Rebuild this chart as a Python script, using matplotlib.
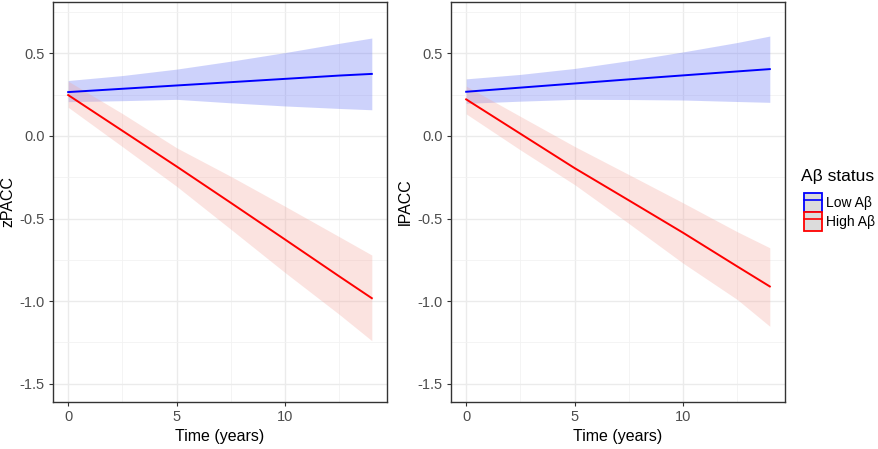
import matplotlib
matplotlib.use("Agg")
import matplotlib.pyplot as plt
from matplotlib.patches import Patch
from matplotlib.lines import Line2D
from matplotlib.legend_handler import HandlerTuple

plt.rcParams['font.family'] = ['Liberation Sans', 'DejaVu Sans']

time = [0, 2.5, 5, 7.5, 10, 12.5, 14]

# Left panel: zPACC
z_low = [0.265, 0.285, 0.305, 0.325, 0.345, 0.365, 0.375]
z_low_hi = [0.335, 0.365, 0.404, 0.452, 0.504, 0.560, 0.592]
z_low_lo = [0.207, 0.213, 0.221, 0.200, 0.181, 0.166, 0.158]
z_high = [0.247, 0.031, -0.185, -0.405, -0.627, -0.850, -0.982]
z_high_hi = [0.331, 0.135, -0.072, -0.245, -0.426, -0.610, -0.721]
z_high_lo = [0.173, -0.065, -0.305, -0.565, -0.827, -1.080, -1.239]

# Right panel: lPACC
l_low = [0.267, 0.292, 0.317, 0.342, 0.366, 0.390, 0.404]
l_low_hi = [0.345, 0.372, 0.408, 0.455, 0.508, 0.565, 0.604]
l_low_lo = [0.197, 0.210, 0.221, 0.220, 0.217, 0.208, 0.203]
l_high = [0.221, 0.013, -0.195, -0.390, -0.586, -0.790, -0.911]
l_high_hi = [0.301, 0.118, -0.064, -0.234, -0.405, -0.580, -0.677]
l_high_lo = [0.133, -0.085, -0.295, -0.530, -0.770, -0.990, -1.152]

groups = ["Low Aβ", "High Aβ"]
line_colors = ["#0000ff", "#ff0000"]
fill_colors = ["#5c6cf5", "#f4a39a"]

W, H = 879, 449
fig = plt.figure(figsize=(W / 100, H / 100), dpi=100)

def ax_at(x0, y0, x1, y1):
    return fig.add_axes([x0 / W, 1 - y1 / H, (x1 - x0) / W, (y1 - y0) / H])

axL = ax_at(53, 2, 387, 402)
axR = ax_at(451, 2, 785, 402)

panels = [
    (axL, "zPACC", [(z_low, z_low_lo, z_low_hi), (z_high, z_high_lo, z_high_hi)]),
    (axR, "lPACC", [(l_low, l_low_lo, l_low_hi), (l_high, l_high_lo, l_high_hi)]),
]

for ax, ylab, series in panels:
    ax.set_facecolor("white")
    ax.set_xlim(-0.7, 14.7)
    ax.set_ylim(-1.61, 0.81)
    ax.set_xticks([0, 5, 10])
    ax.set_xticks([2.5, 7.5, 12.5], minor=True)
    ax.set_yticks([-1.5, -1.0, -0.5, 0.0, 0.5])
    ax.set_yticklabels(["-1.5", "-1.0", "-0.5", "0.0", "0.5"])
    ax.set_yticks([-1.25, -0.75, -0.25, 0.25, 0.75], minor=True)
    ax.grid(True, which="major", color="#ebebeb", lw=1.0)
    ax.grid(True, which="minor", color="#f2f2f2", lw=0.6)
    ax.set_axisbelow(True)
    for (m, lo, hi), lc, fc in zip(series, line_colors, fill_colors):
        ax.fill_between(time, lo, hi, color=fc, alpha=0.3, lw=0)
        ax.plot(time, m, color=lc, lw=1.4)
    for s in ax.spines.values():
        s.set_color("#333333")
        s.set_linewidth(1.0)
    ax.tick_params(which="major", length=3, width=0.8, color="#333333",
                   labelsize=10.5, labelcolor="#4d4d4d", pad=3)
    ax.tick_params(which="minor", length=0)
    ax.set_xlabel("Time (years)", fontsize=11.5, labelpad=3)
    ax.set_ylabel(ylab, fontsize=11.5, labelpad=3)

fig.text(801 / W, 1 - 177 / H, "Aβ status", fontsize=12.5, ha="left", va="center")

handles = []
for lc in line_colors:
    handles.append((Patch(facecolor="#dcdcdc", edgecolor=lc, lw=1.3),
                    Line2D([0], [0], color=lc, lw=1.2)))
leg = fig.legend(handles, groups, handler_map={tuple: HandlerTuple(ndivide=1, pad=0)},
                 loc="upper left", bbox_to_anchor=(804 / W, 1 - 193 / H),
                 frameon=False, fontsize=10,
                 handlelength=1.3, handleheight=1.75, handletextpad=0.3,
                 labelspacing=0.0, borderaxespad=0, borderpad=0)

fig.savefig("out.png", dpi=100)
